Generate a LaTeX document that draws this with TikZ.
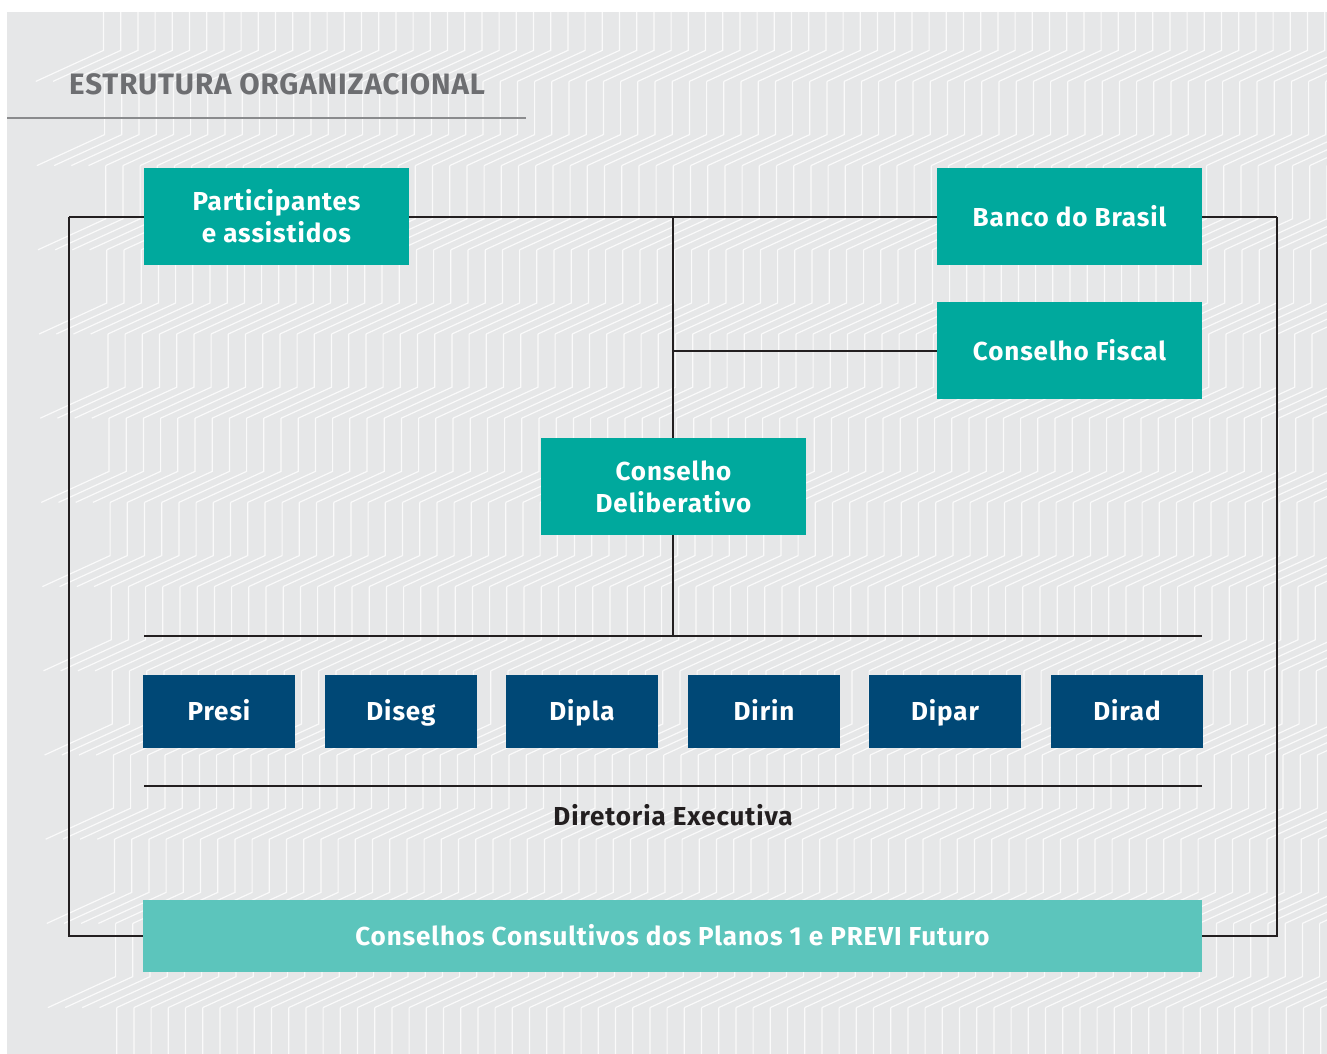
\documentclass[tikz,border=0pt]{standalone}
\usepackage{fontspec}
\setmainfont{Fira Sans}[LetterSpace=3.5]
\newfontfamily\headfont{Fira Sans}[LetterSpace=3]
\definecolor{bggrey}{HTML}{E6E7E8}
\definecolor{titlegrey}{HTML}{6D6E71}
\definecolor{rulegrey}{HTML}{8A8B8D}
\definecolor{teal}{HTML}{00A99D}
\definecolor{lightteal}{HTML}{5CC5BC}
\definecolor{navy}{HTML}{004876}
\definecolor{ink}{HTML}{231F20}
\tikzset{
  box/.style={inner sep=0pt, align=center, text=white, font=\fontsize{26}{32}\selectfont\bfseries},
  tealbox/.style={box, fill=teal, minimum width=265pt, minimum height=97pt},
  navybox/.style={box, fill=navy, minimum width=152pt, minimum height=73pt, text height=18pt, text depth=0pt},
  wide/.style={box, fill=lightteal, minimum width=1059pt, minimum height=72pt, text height=18pt, text depth=0pt},
  link/.style={draw=ink, line width=2.8pt},
  zig/.style={draw=white, line width=1.2pt, opacity=0.8}
}
\begin{document}
\begin{tikzpicture}[x=1pt,y=-1pt]
\useasboundingbox (0,0) rectangle (1327,1054);
\fill[white] (0,0) rectangle (1327,1054);
% textured panel: vertical white strokes with slanted jogs
\fill[bggrey] (7,12) rectangle (1327,1054);
\begin{scope}
  \clip (7,12) rectangle (1327,1054);
  \foreach \k in {-4,...,9}{
    \foreach \n in {-6,...,82}{
      \pgfmathsetmacro{\xx}{210+1.1*\k+17.2*\n}
      \pgfmathsetmacro{\yy}{303+84.2*\k}
      \draw[zig] (\xx,\yy-53.2) -- (\xx,\yy) -- (\xx-67.7,\yy+31);
    }
  }
\end{scope}

% heading
\node[anchor=base west, inner sep=0pt, text=titlegrey, font=\headfont\fontsize{29.5}{32}\selectfont\bfseries] (title) at (69,95) {ESTRUTURA ORGANIZACIONAL};
\coordinate (ruleL) at (7,118);
\coordinate (ruleR) at (526,118);
\draw[rulegrey, line width=2pt] (ruleL) -- (ruleR);

% junction points of the connectors
\coordinate (tl) at (69,217);
\coordinate (tr) at (1277,217);
\coordinate (bl) at (69,936);
\coordinate (br) at (1277,936);
\coordinate (hub) at (673,217);
\coordinate (fj) at (673,351);
\coordinate (barM) at (673,636);
\coordinate (barL) at (144,636);
\coordinate (barR) at (1202,636);
\coordinate (bar2L) at (144,786);
\coordinate (bar2R) at (1202,786);

% connectors (drawn first, boxes cover them)
\draw[link] (tl) -- (tr);
\draw[link] (tl) -- (bl) -- (143,936);
\draw[link] (tr) -- (br) -- (1202,936);
\draw[link] (hub) -- (barM);
\draw[link] (fj) -- (937,351);
\draw[link] (barL) -- (barR);
\draw[link] (bar2L) -- (bar2R);

% governance bodies
\node[tealbox] (part) at (276.5,216.5) {Participantes\\e assistidos};
\node[tealbox] (banco) at (1069.5,216.5) {Banco do Brasil};
\node[tealbox] (fiscal) at (1069.5,350.5) {Conselho Fiscal};
\node[tealbox] (delib) at (673.5,486.5) {Conselho\\Deliberativo};

% executive board
\node[navybox] (presi) at (219,711.5) {Presi};
\node[navybox] (diseg) at (401,711.5) {Diseg};
\node[navybox] (dipla) at (582,711.5) {Dipla};
\node[navybox] (dirin) at (764,711.5) {Dirin};
\node[navybox] (dipar) at (945,711.5) {Dipar};
\node[navybox] (dirad) at (1127,711.5) {Dirad};
\node[inner sep=0pt, text=ink, text height=18pt, text depth=0pt, font=\fontsize{26}{28}\selectfont\bfseries] (dirlabel) at (673,816) {Diretoria Executiva};

% advisory councils
\node[wide] (consult) at (672.5,936) {Conselhos Consultivos dos Planos 1 e PREVI Futuro};
\end{tikzpicture}
\end{document}
